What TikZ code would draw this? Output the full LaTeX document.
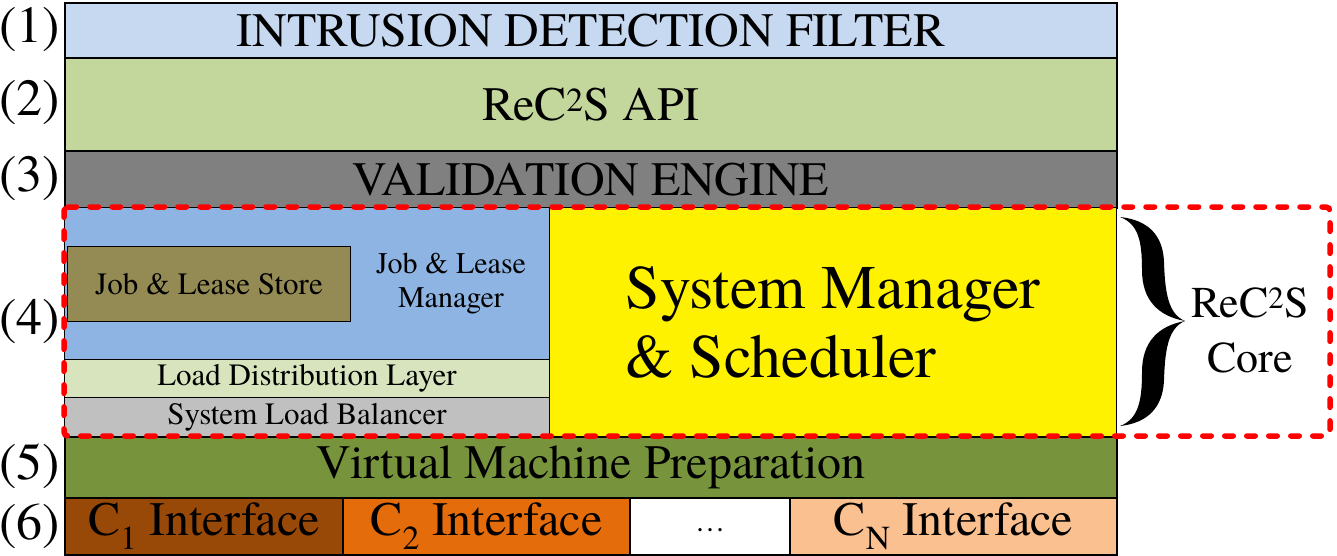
\documentclass[tikz,border=0pt]{standalone}
\usepackage{fontspec}
\setmainfont{texgyretermes}[Extension=.otf, UprightFont=*-regular, BoldFont=*-bold,
  ItalicFont=*-italic, BoldItalicFont=*-bolditalic]
\definecolor{idfblue}{HTML}{C6D9F1}
\definecolor{apigreen}{HTML}{C3D69B}
\definecolor{valgray}{HTML}{808080}
\definecolor{jobblue}{HTML}{8EB4E3}
\definecolor{storeolive}{HTML}{948A54}
\definecolor{ldlgreen}{HTML}{D7E4BD}
\definecolor{slbgray}{HTML}{C0C0C0}
\definecolor{vmgreen}{HTML}{77933C}
\definecolor{ifbrown}{HTML}{984807}
\definecolor{iforange}{HTML}{E46C0A}
\definecolor{ifpeach}{HTML}{FAC090}
\begin{document}
\begin{tikzpicture}[x=1pt,y=-1pt,
  layer/.style={draw=black, line width=2pt, inner sep=0pt, anchor=north west, align=center,
    font=\fontsize{48}{52}\selectfont},
  part/.style={draw=black, line width=1pt, inner sep=0pt, anchor=north west, align=center,
    font=\fontsize{31}{34}\selectfont},
  rowlabel/.style={inner sep=0pt, font=\fontsize{52}{56}\selectfont},
  corebox/.style={draw=red, line width=5.5pt, dash pattern=on 8.5pt off 13.5pt, line cap=round,
    rounded corners=4pt}]
\useasboundingbox (0,0) rectangle (1337,556);

% stacked layers
\node[layer, fill=idfblue, minimum width=1052pt, minimum height=55pt] (idf) at (64,2)
  {INTRUSION DETECTION FILTER};
\node[layer, fill=apigreen, minimum width=1052pt, minimum height=93pt] (api) at (64,57)
  {ReC\textsuperscript{2}S API};
\node[layer, fill=valgray, minimum width=1052pt, minimum height=57pt] (val) at (64,150)
  {VALIDATION ENGINE};

% core: job and lease management, load layers, scheduler
\node[part, fill=jobblue, minimum width=485pt, minimum height=152pt] (jlm) at (64,207) {};
\node[part, fill=storeolive, minimum width=283pt, minimum height=75pt] (store) at (67,246)
  {Job \& Lease Store};
\node[align=center, inner sep=0pt, font=\fontsize{30}{34}\selectfont] (jlmtext) at (451,284)
  {Job \& Lease\\Manager};
\node[part, fill=ldlgreen, minimum width=485pt, minimum height=38pt] (ldl) at (64,359)
  {Load Distribution Layer};
\node[part, fill=slbgray, minimum width=485pt, minimum height=39pt] (slb) at (64,397)
  {System Load Balancer};
\node[part, fill=yellow, minimum width=567pt, minimum height=229pt, align=left,
  font=\fontsize{62}{69}\selectfont] (sched) at (549,207)
  {System Manager\\\& Scheduler};

% lower layers
\node[layer, fill=vmgreen, minimum width=1052pt, minimum height=61pt] (vm) at (64,436)
  {Virtual Machine Preparation};
\node[layer, fill=ifbrown, minimum width=278pt, minimum height=57pt] (c1) at (64,497)
  {C\textsubscript{1} Interface};
\node[layer, fill=iforange, minimum width=287pt, minimum height=57pt] (c2) at (342,497)
  {C\textsubscript{2} Interface};
\node[layer, fill=white, minimum width=160pt, minimum height=57pt,
  font=\fontsize{30}{34}\selectfont] (cdots) at (629,497) {\raisebox{-10pt}{\dots}};
\node[layer, fill=ifpeach, minimum width=327pt, minimum height=57pt] (cn) at (789,497)
  {C\textsubscript{N} Interface};

% layer numbers
\node[rowlabel] (n1) at (30,30) {(1)};
\node[rowlabel] (n2) at (30,103) {(2)};
\node[rowlabel] (n3) at (30,179) {(3)};
\node[rowlabel] (n4) at (30,322) {(4)};
\node[rowlabel] (n5) at (30,466) {(5)};
\node[rowlabel] (n6) at (30,526) {(6)};

% core outline
\draw[corebox] (64,207) -- (1330,207) -- (1330,436) -- (64,436) -- cycle;

% brace as a filled calligraphic stroke: outer edges down, inner edges back up
\fill[black]
  (1120,217) .. controls (1148,220) and (1163,235) .. (1164,262)
             .. controls (1165,292) and (1168,314) .. (1185,321)
             .. controls (1168,328) and (1165,350) .. (1164,380)
             .. controls (1163,407) and (1148,423) .. (1120,426)
             .. controls (1138,419) and (1142,402) .. (1142,372)
             .. controls (1142,342) and (1158,326) .. (1185,321)
             .. controls (1158,316) and (1142,300) .. (1142,270)
             .. controls (1142,240) and (1138,224) .. (1120,217) -- cycle;
\node[align=center, inner sep=0pt, font=\fontsize{44}{55}\selectfont] (core) at (1250,330)
  {ReC\textsuperscript{2}S\\Core};
\end{tikzpicture}
\end{document}
